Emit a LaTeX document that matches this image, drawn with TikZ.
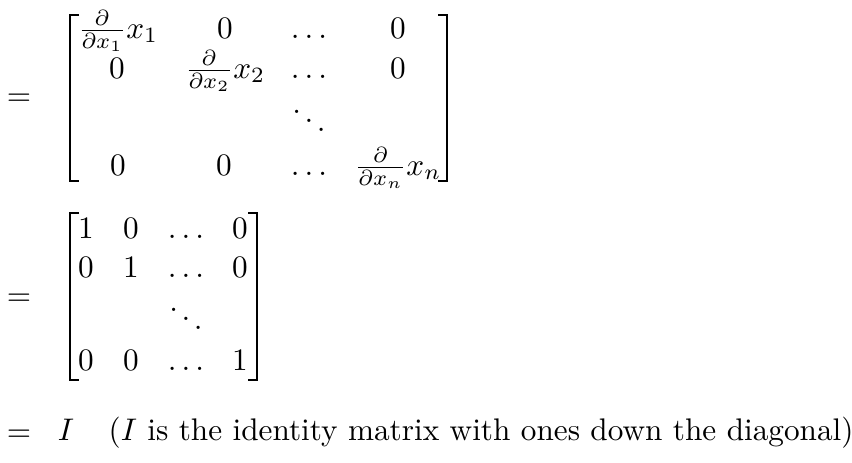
\documentclass[tikz,border=0pt]{standalone}
\usepackage{amsmath}
\usetikzlibrary{calc}
\def\leftbrak(#1,#2,#3){\draw[brak] ($(#1,#2)+(9,0)$) -- (#1,#2) -- (#1,#3) -- ($(#1,#3)+(9,0)$);}
\def\rightbrak(#1,#2,#3){\draw[brak] ($(#1,#2)+(-9,0)$) -- (#1,#2) -- (#1,#3) -- ($(#1,#3)+(-9,0)$);}
\tikzset{
	entry/.style={anchor=base, inner sep=0pt},
	brak/.style={line width=0.75pt, line join=miter}
}

\begin{document}
\begin{tikzpicture}[x=0.32pt, y=-0.32pt]
			%%%%% START %%%%%
			\useasboundingbox (0, 0) rectangle (852, 463);
			
			\node[entry] (eqa) at (19, 105) {$=$};
			\leftbrak(70, 15, 181)
			\rightbrak(447, 15, 181)
			
			\node[entry] (d11) at (118, 38) {$\frac{\partial}{\partial x_1}x_1$};
			\node[entry] (d12) at (225, 38) {$0$};
			\node[entry] (d13) at (309, 38) {$\ldots$};
			\node[entry] (d14) at (398, 38) {$0$};
			
			\node[entry] (d21) at (117, 78) {$0$};
			\node[entry] (d22) at (225, 78) {$\frac{\partial}{\partial x_2}x_2$};
			\node[entry] (d23) at (309, 78) {$\ldots$};
			\node[entry] (d24) at (398, 78) {$0$};
			
			\node[entry] (d33) at (309, 135) {$\ddots$};
			
			\node[entry] (d41) at (118, 175) {$0$};
			\node[entry] (d42) at (224, 175) {$0$};
			\node[entry] (d43) at (309, 175) {$\ldots$};
			\node[entry] (d44) at (398, 175) {$\frac{\partial}{\partial x_n}x_n$};
			
			\node[entry] (eqb) at (19, 305) {$=$};
			\leftbrak(70, 213, 380)
			\rightbrak(257, 213, 380)
			
			\node[entry] (i11) at (86, 238) {$1$};
			\node[entry] (i12) at (131, 238) {$0$};
			\node[entry] (i13) at (186, 238) {$\ldots$};
			\node[entry] (i14) at (240, 238) {$0$};
			
			\node[entry] (i21) at (86, 277) {$0$};
			\node[entry] (i22) at (131, 277) {$1$};
			\node[entry] (i23) at (186, 277) {$\ldots$};
			\node[entry] (i24) at (240, 277) {$0$};
			
			\node[entry] (i33) at (186, 333) {$\ddots$};
			
			\node[entry] (i41) at (86, 370) {$0$};
			\node[entry] (i42) at (131, 370) {$0$};
			\node[entry] (i43) at (186, 370) {$\ldots$};
			\node[entry] (i44) at (240, 370) {$1$};
			
			\node[entry] (eqc) at (19, 441) {$=$};
			\node[entry] (ident) at (66, 440) {$I$};
			\node[entry, anchor=base west] (note) at (108, 440) {($I$ is the identity matrix with ones down the diagonal)};
			%%%%% END %%%%%
\end{tikzpicture}
\end{document}
